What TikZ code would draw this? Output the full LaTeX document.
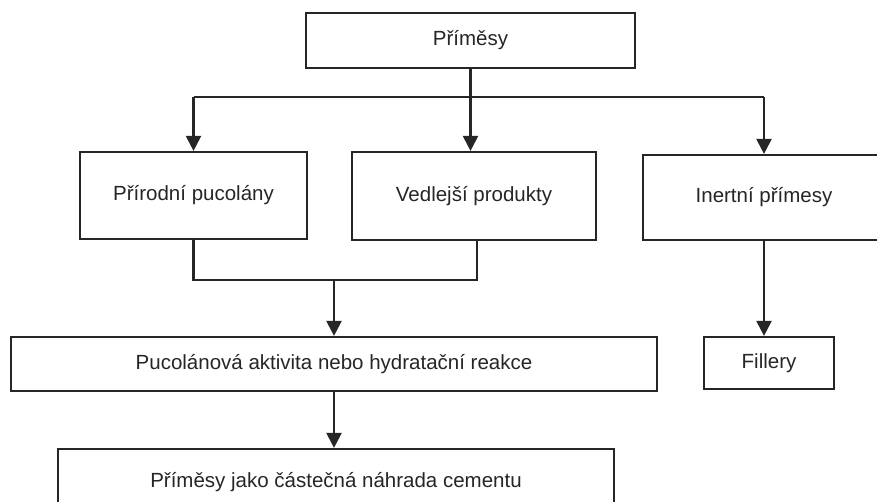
\documentclass[tikz,border=0pt]{standalone}
\usepackage{fontspec}
\setmainfont{Liberation Sans}
\usetikzlibrary{arrows.meta}
\begin{document}
\begin{tikzpicture}[x=1pt,y=-1pt,
  box/.style={draw=black!85, line width=2.2pt, inner sep=0pt, align=center,
              font=\fontsize{20.5pt}{24pt}\selectfont, text=black!85},
  conn/.style={line width=2.2pt, draw=black!85},
  arr/.style={conn, -{Triangle[width=15pt,length=15pt]}}]
\clip (0,0) rectangle (877,501);
\fill[white] (0,0) rectangle (877,501);

\node[box, minimum width=329pt, minimum height=55pt] (top) at (470.5,40.5) {Příměsy};
\node[box, minimum width=227pt, minimum height=87pt] (A) at (193.5,195.5) {Přírodní pucolány};
\node[box, minimum width=244pt, minimum height=88pt] (B) at (474,196) {Vedlejší produkty};
\node[box, minimum width=242pt, minimum height=85pt] (C) at (764,197.5) {\raisebox{-4pt}{Inertní přímesy}};
\node[box, minimum width=646pt, minimum height=54pt] (D) at (334,364) {Pucolánová aktivita nebo hydratační reakce};
\node[box, minimum width=130pt, minimum height=52pt] (F) at (769,363) {\raisebox{-3pt}{Fillery}};
\node[box, minimum width=556pt, minimum height=62pt, text depth=0pt] (E) at (336,480) {Příměsy jako částečná náhrada cementu};

\coordinate (bus) at (0,97);
\coordinate (m) at (334,280);

\draw[conn] (A.north |- bus) -- (C.north |- bus);
\draw[arr] (A.north |- bus) -- (A.north);
\draw[arr] (top.south) -- (top.south |- B.north);
\draw[arr] (C.north |- bus) -- (C.north);

\draw[conn] (A.south) |- (m) -| ([xshift=3pt]B.south);
\draw[arr] (m) -- (D.north);
\draw[arr] (D.south) -- (D.south |- E.north);
\draw[arr] (C.south) -- (C.south |- F.north);
\end{tikzpicture}
\end{document}
